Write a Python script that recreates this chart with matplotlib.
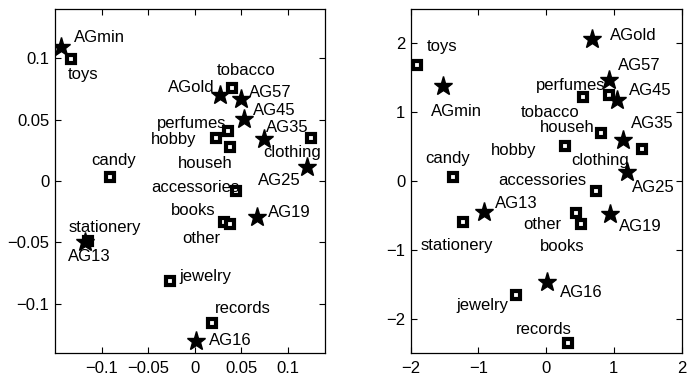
import matplotlib
matplotlib.use("Agg")
import matplotlib.pyplot as plt

plt.rcParams['font.family'] = ['Liberation Sans', 'DejaVu Sans']

# left panel
left_names = ["AGmin", "toys", "tobacco", "AGold", "AG57", "AG45", "perfumes", "hobby",
              "househ", "AG35", "clothing", "AG25", "candy", "accessories", "books",
              "other", "AG19", "stationery", "AG13", "jewelry", "records", "AG16"]
left_x = [-0.143, -0.133, 0.040, 0.027, 0.050, 0.053, 0.036, 0.0225,
          0.0375, 0.074, 0.125, 0.121, -0.091, 0.044, 0.032,
          0.038, 0.067, -0.115, -0.118, -0.026, 0.0186, 0.002]
left_y = [0.109, 0.099, 0.076, 0.070, 0.0665, 0.0507, 0.041, 0.035,
          0.028, 0.034, 0.035, 0.011, 0.0034, -0.008, -0.033,
          -0.035, -0.0295, -0.0485, -0.050, -0.081, -0.1157, -0.130]

# right panel
right_names = ["AGold", "toys", "AGmin", "AG57", "perfumes", "AG45", "tobacco", "househ",
               "AG35", "hobby", "clothing", "candy", "accessories", "AG25", "AG13",
               "stationery", "other", "books", "AG19", "AG16", "jewelry", "records"]
right_x = [0.684, -1.91, -1.525, 0.924, 0.924, 1.05, 0.54, 0.81,
           1.14, 0.274, 1.41, -1.375, 0.74, 1.19, -0.915,
           -1.225, 0.435, 0.51, 0.95, 0.015, -0.45, 0.324]
right_y = [2.07, 1.686, 1.383, 1.47, 1.253, 1.18, 1.22, 0.69,
           0.60, 0.506, 0.468, 0.063, -0.14, 0.13, -0.448,
           -0.60, -0.467, -0.626, -0.48, -1.47, -1.66, -2.35]

# label offsets in pixels (dx, dy up, alignment)
left_offsets = {
    "AGmin": (12, 10, "left"), "toys": (-3, -15, "left"), "tobacco": (14, 17, "center"),
    "AGold": (-5, 7, "right"), "AG57": (8, 7, "left"), "AG45": (9, 8, "left"),
    "perfumes": (-2, 7, "right"), "hobby": (-19, -2, "right"), "househ": (3, -17, "right"),
    "AG35": (2, 12, "left"), "clothing": (-19, -15, "center"), "AG25": (-7, -13, "right"),
    "candy": (4, 16, "center"), "accessories": (4, 3, "right"), "books": (-9, 11, "right"),
    "other": (-10, -15, "right"), "AG19": (11, 5, "left"), "stationery": (-19, 13, "left"),
    "AG13": (-17, -14, "left"), "jewelry": (9, 4, "left"), "records": (3, 15, "left"),
    "AG16": (12, 0, "left"),
}
right_offsets = {
    "AGold": (18, 3, "left"), "toys": (10, 18, "left"), "AGmin": (-12, -26, "left"),
    "AG57": (9, 14, "left"), "perfumes": (-3, 9, "right"), "AG45": (12, 9, "left"),
    "tobacco": (-3, -15, "right"), "househ": (-6, 6, "right"), "AG35": (8, 16, "left"),
    "hobby": (-28, -4, "right"), "clothing": (-13, -12, "right"), "candy": (-5, 18, "center"),
    "accessories": (-10, 10, "right"), "AG25": (5, -15, "left"), "AG13": (11, 8, "left"),
    "stationery": (-6, -23, "center"), "other": (-14, -11, "right"), "books": (-18, -22, "center"),
    "AG19": (9, -12, "left"), "AG16": (13, -10, "left"), "jewelry": (-7, -10, "right"),
    "records": (-24, 13, "center"),
}

left_ticks = [-0.1, -0.05, 0, 0.05, 0.1]
left_ticklabels = ["\u22120.1", "\u22120.05", "0", "0.05", "0.1"]
right_ticks = [-2, -1, 0, 1, 2]
right_ticklabels = ["\u22122", "\u22121", "0", "1", "2"]

FS = 12
PX = 0.72  # pixel -> point at dpi 100


def draw_panel(ax, names, xs, ys, offsets):
    for n, x, y in zip(names, xs, ys):
        if n.startswith("AG"):
            ax.plot(x, y, marker="*", color="black", markersize=14, linestyle="none")
        else:
            ax.plot(x, y, marker="s", markerfacecolor="white", markeredgecolor="black",
                    markersize=5.5, markeredgewidth=3, linestyle="none")
        dx, dy, ha = offsets[n]
        ax.annotate(n, (x, y), xytext=(dx * PX, dy * PX), textcoords="offset points",
                    ha=ha, va="center", fontsize=FS)


def style_axes(ax, ticks, ticklabels, lim_x, lim_y):
    ax.set_xlim(*lim_x)
    ax.set_ylim(*lim_y)
    ax.set_xticks(ticks)
    ax.set_xticklabels(ticklabels)
    ax.set_yticks(ticks)
    ax.set_yticklabels(ticklabels)
    ax.tick_params(direction="in", top=True, right=True, length=4, width=0.8,
                   labelsize=FS, colors="black")
    ax.tick_params(axis="x", pad=6)
    ax.tick_params(axis="y", pad=4)
    for s in ax.spines.values():
        s.set_linewidth(0.9)


fig = plt.figure(figsize=(6.87, 3.81), dpi=100)
ax1 = fig.add_axes([0.080, 0.0735, 0.393, 0.903])
ax2 = fig.add_axes([0.598, 0.0735, 0.394, 0.903])

draw_panel(ax1, left_names, left_x, left_y, left_offsets)
draw_panel(ax2, right_names, right_x, right_y, right_offsets)

style_axes(ax1, left_ticks, left_ticklabels, (-0.15, 0.14), (-0.14, 0.14))
style_axes(ax2, right_ticks, right_ticklabels, (-2, 2), (-2.5, 2.5))

fig.savefig("out.png", dpi=100)
